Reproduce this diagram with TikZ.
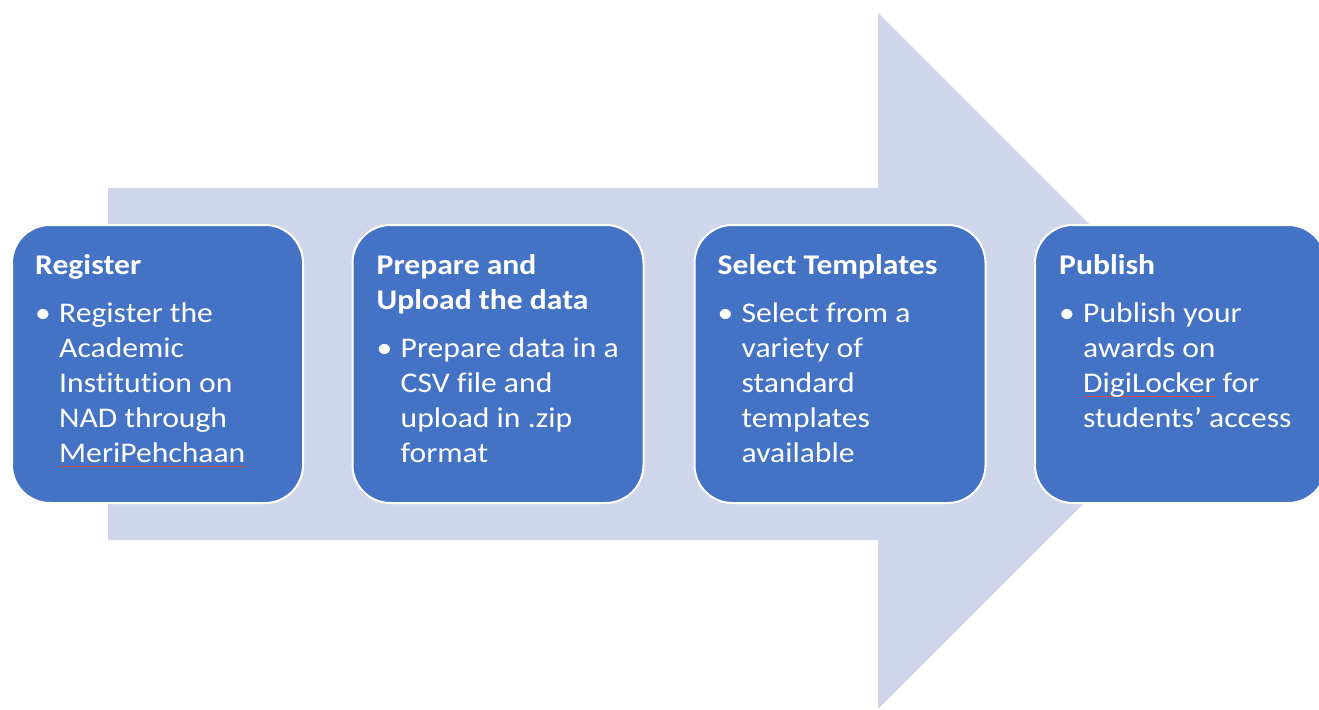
\documentclass[tikz,border=0pt]{standalone}
\usepackage{fontspec}
\setmainfont{Carlito}[FakeStretch=1.11, Ligatures=NoCommon]
\usepackage{xcolor}
\usepackage{tikz}
\usetikzlibrary{positioning,calc}

\definecolor{arrowgray}{HTML}{CFD5EA}
\definecolor{boxblue}{HTML}{4472C4}
\definecolor{spellred}{HTML}{D04A5E}

% spell-check mark under a word
\newlength{\spellwd}
\newcommand{\spellmark}[1]{\settowidth{\spellwd}{#1}\rlap{\textcolor{spellred}{\rule[-5pt]{\spellwd}{1pt}}}#1}

\tikzset{
    stepbox/.style={draw=white, line width=2pt, fill=boxblue, rounded corners=38pt,
        minimum width=291pt, minimum height=278pt, inner sep=0pt, outer sep=0pt},
    steptitle/.style={text=white, font=\bfseries\fontsize{28.5}{35}\selectfont,
        align=left, inner sep=0pt, anchor=north west},
    stepbody/.style={text=white, font=\fontsize{28.5}{35}\selectfont,
        align=left, inner sep=0pt, anchor=north west}
}

\begin{document}
\begin{tikzpicture}[x=1pt, y=-1pt]
    \useasboundingbox (0,0) rectangle (1319,709);

    % Big arrow in the back
    \fill[arrowgray] (108,188) -- (878,188) -- (878,13) -- (1226,361)
        -- (878,709) -- (878,540) -- (108,540) -- cycle;

    % Steps
    \node[stepbox] (reg)  at (157.5,364) {};
    \node[stepbox] (prep) at (498,364) {};
    \node[stepbox] (sel)  at (840,364) {};
    \node[stepbox] (pub)  at (1180.5,364) {};

    % Register
    \node[steptitle] (regT) at ([shift={(23pt,-25pt)}]reg.north west) {\strut Register};
    \node[stepbody] (regB) at ([shift={(23pt,-72.5pt)}]reg.north west) {\strut\textbullet};
    \node[stepbody] (regL) at ([shift={(47pt,-72.5pt)}]reg.north west)
        {\strut Register the\\Academic\\Institution on\\NAD through\\\spellmark{MeriPehchaan}};

    % Prepare and upload
    \node[steptitle] (prepT) at ([shift={(24pt,-25pt)}]prep.north west) {\strut Prepare and\\Upload the data};
    \node[stepbody] (prepB) at ([shift={(24pt,-107.5pt)}]prep.north west) {\strut\textbullet};
    \node[stepbody] (prepL) at ([shift={(48pt,-107.5pt)}]prep.north west)
        {\strut Prepare data in a\\CSV file and\\upload in .zip\\format};

    % Select templates
    \node[steptitle] (selT) at ([shift={(23pt,-25pt)}]sel.north west) {\strut Select Templates};
    \node[stepbody] (selB) at ([shift={(23pt,-72.5pt)}]sel.north west) {\strut\textbullet};
    \node[stepbody] (selL) at ([shift={(47pt,-72.5pt)}]sel.north west)
        {\strut Select from a\\variety of\\standard\\templates\\available};

    % Publish
    \node[steptitle] (pubT) at ([shift={(24pt,-25pt)}]pub.north west) {\strut Publish};
    \node[stepbody] (pubB) at ([shift={(24pt,-72.5pt)}]pub.north west) {\strut\textbullet};
    \node[stepbody] (pubL) at ([shift={(48pt,-72.5pt)}]pub.north west)
        {\strut Publish your\\awards on\\\spellmark{DigiLocker} for\\students’ access};
\end{tikzpicture}
\end{document}
